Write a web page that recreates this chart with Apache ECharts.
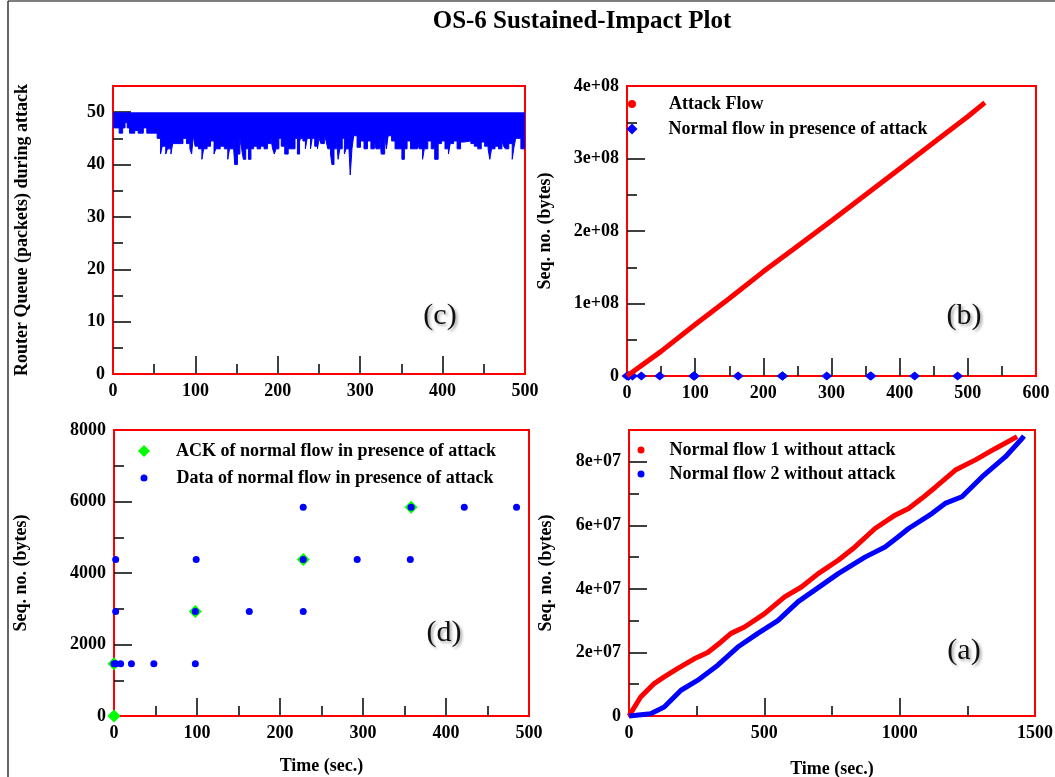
<!DOCTYPE html>
<html>
<head>
<meta charset="utf-8">
<script src="https://cdn.jsdelivr.net/npm/echarts@6/dist/echarts.min.js"></script>
<style>
html, body { margin: 0; background: #fff; }
#plot { width: 1055px; height: 777px; }
</style>
</head>
<body>
<div id="plot"></div>
<script>
// (c) router queue: lowest queue level reached in each stretch (queue sits at 50 otherwise)
var queueTime = [0, 7.5, 11.7, 14.6, 17.2, 20.1, 26.4, 30.5, 36.8, 41.0, 53.6, 57.7, 59.8, 64.0, 66.1, 70.3, 72.4, 84.9, 89.1, 93.3,
  95.4, 97.5, 99.6, 103.8, 107.9, 110.0, 114.2, 118.4, 122.6, 124.7, 130.1, 135.1, 139.3, 141.4, 145.6, 147.7, 151.0, 154.0, 156.1, 158.2,
  161.1, 164.4, 167.4, 170.7, 174.9, 179.1, 183.3, 187.4, 191.6, 193.7, 195.8, 197.9, 201.3, 204.2, 208.4, 212.6, 220.9, 223.8, 226.4, 228.0,
  230.5, 233.5, 235.6, 239.7, 241.8, 244.8, 248.1, 250.2, 252.3, 256.5, 258.6, 260.7, 264.0, 265.7, 268.2, 271.1, 273.2, 275.3, 278.2, 280.8,
  282.8, 285.8, 287.9, 290.0, 292.1, 296.2, 300.4, 304.6, 308.8, 313.0, 317.2, 319.2, 323.4, 325.5, 329.7, 331.8, 333.9, 338.1, 342.3, 350.6,
  353.6, 356.9, 361.1, 369.5, 371.5, 375.7, 377.8, 382.0, 386.2, 390.4, 394.6, 398.7, 402.9, 407.1, 409.2, 413.4, 417.6, 421.8, 425.9, 434.3,
  438.5, 442.7, 446.9, 451.0, 455.2, 457.3, 459.4, 463.6, 467.8, 472.0, 474.1, 476.2, 480.3, 484.5, 486.6, 488.7, 495.0, 500];
var queueMin = [47, 46, 47, 48, 47, 46, 46.5, 46, 47, 46, 45, 42, 43.5, 42, 43, 42, 44, 45, 44, 43,
  42, 45.5, 43.5, 43, 41, 43, 43.5, 44.5, 42, 43, 43.5, 43, 41, 43, 45, 40, 42, 45, 43, 41,
  43, 41, 43, 43.5, 43, 43.5, 43, 44, 45, 43, 42, 43, 45, 43.5, 42, 43, 45, 42, 44.5, 45,
  44.5, 43, 45, 43, 45, 43.5, 43, 45, 44, 45.5, 44.5, 43, 42, 40, 43, 45, 41, 43, 45, 42,
  43, 45, 38, 43, 45.5, 43.3, 44.5, 43, 44.5, 43, 44.5, 43, 45.7, 42, 45.5, 43, 45.5, 44.5, 43, 41,
  43, 44.5, 43, 44.5, 43, 41, 43, 44.5, 43, 41, 44, 44.5, 43, 42, 44, 44.5, 43, 44.3, 44.5, 44,
  43.5, 43, 44.3, 43.5, 43, 41, 43, 43.5, 43, 44.5, 43.5, 43, 44, 41, 43.3, 45, 43, 43];
var queueFull = 50;

// (b) attack flow sequence numbers
var attackTime = [0, 50, 100, 150, 200, 250, 300, 350, 400, 450, 500, 525];
var attackSeq = [0, 0.34e8, 0.71e8, 1.07e8, 1.44e8, 1.79e8, 2.14e8, 2.50e8, 2.86e8, 3.22e8, 3.58e8, 3.77e8];

// (b)/(d) normal flow in presence of attack
var dataTime = [0, 2, 8, 21, 48, 98, 2, 98, 163, 228, 2, 99, 228, 293, 357, 228, 358, 422, 485];
var dataSeq = [1460, 1460, 1460, 1460, 1460, 1460, 2920, 2920, 2920, 2920, 4380, 4380, 4380, 4380, 4380, 5840, 5840, 5840, 5840];
var ackTime = [0, 0, 98, 228, 358];
var ackSeq = [0, 1460, 2920, 4380, 5840];

// (a) normal flows without attack
var flow1Time = [0, 43, 93, 130, 179, 241, 291, 340, 377, 427, 501, 575, 637, 699, 773, 835, 909, 983, 1033, 1082, 1132, 1206, 1280, 1354, 1434];
var flow1Seq = [0, 6.0e6, 1.02e7, 1.23e7, 1.49e7, 1.80e7, 2.00e7, 2.33e7, 2.60e7, 2.80e7, 3.22e7, 3.75e7, 4.06e7, 4.48e7, 4.90e7, 5.32e7,
  5.90e7, 6.32e7, 6.53e7, 6.85e7, 7.20e7, 7.74e7, 8.06e7, 8.42e7, 8.79e7];
var flow2Time = [0, 80, 130, 192, 253, 328, 402, 476, 550, 625, 686, 773, 872, 946, 995, 1033, 1119, 1168, 1230, 1305, 1391, 1453, 1459];
var flow2Seq = [0, 7e5, 2.8e6, 8.1e6, 1.12e7, 1.60e7, 2.17e7, 2.60e7, 3.00e7, 3.60e7, 3.96e7, 4.48e7, 5.00e7, 5.32e7, 5.64e7, 5.90e7,
  6.37e7, 6.69e7, 6.90e7, 7.53e7, 8.16e7, 8.74e7, 8.81e7];

// tick labels / tick positions
var cXLabels = [0, 100, 200, 300, 400, 500], cXTicks = [100, 200, 300, 400];
var cYLabels = [0, 10, 20, 30, 40, 50], cYTicks = [10, 20, 30, 40, 50];
var bXLabels = [0, 100, 200, 300, 400, 500, 600], bXTicks = [100, 200, 300, 400, 500];
var bYLabels = [0, 1e8, 2e8, 3e8, 4e8], bYTicks = [1e8, 2e8, 3e8];
var dXLabels = [0, 100, 200, 300, 400, 500], dXTicks = [100, 200, 300, 400];
var dYLabels = [0, 2000, 4000, 6000, 8000], dYTicks = [2000, 4000, 6000];
var aXLabels = [0, 500, 1000, 1500], aXTicks = [500, 1000];
var aYLabels = [0, 2e7, 4e7, 6e7, 8e7], aYTicks = [2e7, 4e7, 6e7, 8e7];

var SERIF = '"Liberation Serif", "DejaVu Serif", serif';
var RED = '#ff0000', BLUE = '#0000ff', GREEN = '#00ff00';

function pairs(xs, ys) { return xs.map(function (x, i) { return [x, ys[i]]; }); }
function plain(v) { return String(v); }
function sci(exp) {
  return function (v) { return v === 0 ? '0' : (Math.round(v / Math.pow(10, exp))) + 'e+0' + exp; };
}

function axis(grid, min, max, interval, ticks, labels, fmt, extra) {
  var a = {
    type: 'value', gridIndex: grid, min: min, max: max, interval: interval,
    axisLine: { show: false },
    splitLine: { show: false },
    axisTick: { show: true, inside: true, length: 18, customValues: ticks, lineStyle: { color: '#000', width: 1.5 } },
    minorTick: { show: true, splitNumber: 2, length: 10, lineStyle: { color: '#000', width: 1.5 } },
    axisLabel: { customValues: labels, formatter: fmt || plain, color: '#000', fontFamily: SERIF, fontWeight: 'bold', fontSize: 18, margin: 8 },
    nameTextStyle: { color: '#000', fontFamily: SERIF, fontWeight: 'bold', fontSize: 18 }
  };
  for (var k in extra) a[k] = extra[k];
  return a;
}
function grid(left, top, width, height) {
  return { left: left, top: top, width: width, height: height, show: true, borderColor: RED, borderWidth: 2,
    backgroundColor: 'transparent', containLabel: false, outerBoundsMode: 'none' };
}
// one legend per entry so every icon keeps its own size; pad = space between icon and text
function legend(name, icon, size, cx, cy, pad) {
  return { data: [{ name: name, icon: icon }], orient: 'vertical', left: cx - size / 2, top: cy - 9, padding: 0,
    itemWidth: size, itemHeight: size, selectedMode: false,
    textStyle: { color: '#000', fontFamily: SERIF, fontWeight: 'bold', fontSize: 18, padding: [0, 0, 0, pad] } };
}
function panelLabel(text, x, y) {
  return { type: 'text', x: x, y: y, silent: true,
    style: { text: text, fill: '#111', font: '30px ' + SERIF, align: 'center', verticalAlign: 'middle',
      textShadowColor: 'rgba(0,0,0,0.35)', textShadowBlur: 3, textShadowOffsetX: 2, textShadowOffsetY: 2 } };
}

var myPlot = echarts.init(document.getElementById('plot'));
var option = {
  animation: false,
  backgroundColor: '#fff',
  grid: [
    grid(113, 86, 412, 288),   // (c)
    grid(627, 86, 409, 290),   // (b)
    grid(114, 430, 415, 286),  // (d)
    grid(629, 430, 406, 286)   // (a)
  ],
  xAxis: [
    axis(0, 0, 500, 100, cXTicks, cXLabels, null, {}),
    axis(1, 0, 600, 100, bXTicks, bXLabels, null, {}),
    axis(2, 0, 500, 100, dXTicks, dXLabels, null, { name: 'Time (sec.)', nameLocation: 'middle', nameGap: 41 }),
    axis(3, 0, 1500, 500, aXTicks, aXLabels, null, { name: 'Time (sec.)', nameLocation: 'middle', nameGap: 44 })
  ],
  yAxis: [
    axis(0, 0, 55, 10, cYTicks, cYLabels, null, { name: 'Router Queue (packets) during attack', nameLocation: 'middle', nameGap: 82 }),
    axis(1, 0, 4e8, 1e8, bYTicks, bYLabels, sci(8), { name: 'Seq. no. (bytes)', nameLocation: 'middle', nameGap: 73 }),
    axis(2, 0, 8000, 2000, dYTicks, dYLabels, null, { name: 'Seq. no. (bytes)', nameLocation: 'middle', nameGap: 84 }),
    axis(3, 0, 9e7, 2e7, aYTicks, aYLabels, sci(7), { name: 'Seq. no. (bytes)', nameLocation: 'middle', nameGap: 74 })
  ],
  legend: [
    legend('Attack Flow', 'circle', 8, 632, 104, 28),
    legend('Normal flow in presence of attack', 'diamond', 11, 632, 129, 26),
    legend('ACK of normal flow in presence of attack', 'diamond', 12, 144, 451, 21),
    legend('Data of normal flow in presence of attack', 'circle', 7, 144, 478, 24),
    legend('Normal flow 1 without attack', 'circle', 7, 641, 450, 20),
    legend('Normal flow 2 without attack', 'circle', 7, 641, 474, 20)
  ],
  series: [
    {
      type: 'line', name: 'Router queue', xAxisIndex: 0, yAxisIndex: 0, step: 'end', symbol: 'none', silent: true,
      data: pairs(queueTime, queueMin),
      lineStyle: { color: BLUE, width: 1 },
      itemStyle: { color: BLUE },
      areaStyle: { color: BLUE, opacity: 1, origin: queueFull }
    },
    {
      type: 'scatter', name: 'Normal flow in presence of attack', xAxisIndex: 1, yAxisIndex: 1,
      symbol: 'diamond', symbolSize: [11, 9], itemStyle: { color: BLUE, opacity: 1 }, clip: false,
      data: pairs(dataTime, dataSeq)
    },
    {
      type: 'line', name: 'Attack Flow', xAxisIndex: 1, yAxisIndex: 1, symbol: 'none', clip: false,
      lineStyle: { color: RED, width: 5 }, itemStyle: { color: RED },
      data: pairs(attackTime, attackSeq)
    },
    {
      type: 'scatter', name: 'ACK of normal flow in presence of attack', xAxisIndex: 2, yAxisIndex: 2,
      symbol: 'diamond', symbolSize: 13, itemStyle: { color: GREEN, opacity: 1 }, clip: false,
      data: pairs(ackTime, ackSeq)
    },
    {
      type: 'scatter', name: 'Data of normal flow in presence of attack', xAxisIndex: 2, yAxisIndex: 2,
      symbol: 'circle', symbolSize: 7, itemStyle: { color: BLUE, opacity: 1 }, clip: false,
      data: pairs(dataTime, dataSeq)
    },
    {
      type: 'line', name: 'Normal flow 1 without attack', xAxisIndex: 3, yAxisIndex: 3, symbol: 'none', clip: false,
      lineStyle: { color: RED, width: 5 }, itemStyle: { color: RED },
      data: pairs(flow1Time, flow1Seq)
    },
    {
      type: 'line', name: 'Normal flow 2 without attack', xAxisIndex: 3, yAxisIndex: 3, symbol: 'none', clip: false,
      lineStyle: { color: BLUE, width: 5 }, itemStyle: { color: BLUE },
      data: pairs(flow2Time, flow2Seq)
    }
  ],
  graphic: [
    { type: 'line', silent: true, shape: { x1: 8, y1: 1, x2: 1055, y2: 1 }, style: { stroke: '#000', lineWidth: 1.2 } },
    { type: 'line', silent: true, shape: { x1: 8, y1: 1, x2: 8, y2: 777 }, style: { stroke: '#000', lineWidth: 1.2 } },
    { type: 'text', x: 582, y: 22, silent: true,
      style: { text: 'OS-6 Sustained-Impact Plot', fill: '#000', font: 'bold 25px ' + SERIF, align: 'center', verticalAlign: 'middle' } },
    panelLabel('(c)', 440, 316),
    panelLabel('(b)', 964, 316),
    panelLabel('(d)', 444, 633),
    panelLabel('(a)', 964, 651)
  ]
};
option && myPlot.setOption(option);
</script>
</body>
</html>
